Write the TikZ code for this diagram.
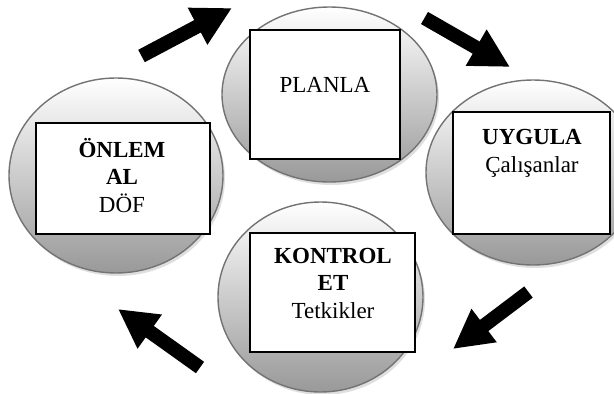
\documentclass[tikz,border=0pt]{standalone}
\usepackage{fontspec}
\setmainfont{Liberation Serif}
\usetikzlibrary{shapes.geometric, arrows.meta, shadows}

\begin{document}
\begin{tikzpicture}[x=1pt, y=-1pt,
    phase/.style={ellipse, draw=black!55, line width=1.4pt, top color=white, bottom color=black!40,
        drop shadow={opacity=0.25, shadow xshift=2pt, shadow yshift=-3pt}},
    stagebox/.style={rectangle, draw, line width=1.3pt, fill=white, inner sep=0pt},
    lbl/.style={font=\fontsize{23}{27.5}\selectfont, align=center, anchor=base, inner sep=0pt},
    cyc/.style={line width=14pt, -{Triangle[length=39pt, width=39pt]}}]
    \useasboundingbox (0,0) rectangle (614,394);
    % Define the circles
    \node[phase, minimum width=215pt, minimum height=175pt] (planC) at (329.5,94.5) {};
    \node[phase, minimum width=214pt, minimum height=185pt] (uygC) at (533,172.5) {};
    \node[phase, minimum width=214pt, minimum height=195pt] (onlC) at (116,175.5) {};
    \node[phase, minimum width=205pt, minimum height=190pt] (konC) at (320.5,297) {};
    % Boxes on top
    \node[stagebox, minimum width=150pt, minimum height=129pt] (plan) at (325,94.5) {};
    \node[stagebox, minimum width=157pt, minimum height=122pt] (uyg) at (531.5,173) {};
    \node[stagebox, minimum width=174pt, minimum height=111pt] (onl) at (123,178.5) {};
    \node[stagebox, minimum width=165pt, minimum height=119pt] (kon) at (332.5,292.5) {};
    % Texts (base = last line)
    \node[lbl] (planT) at (325,92) {PLANLA};
    \node[lbl] (uygT) at (532,172) {\textbf{UYGULA}\\Çalışanlar};
    \node[lbl] (onlT) at (122,212) {\textbf{ÖNLEM}\\\textbf{AL}\\DÖF};
    \node[lbl] (konT) at (333,318) {\textbf{KONTROL}\\\textbf{ET}\\Tetkikler};
    % Cycle arrows
    \coordinate (a1s) at (141.5,56);  \coordinate (a1e) at (232,8);
    \coordinate (a2s) at (424.5,18);  \coordinate (a2e) at (510,67);
    \coordinate (a3s) at (528.5,292); \coordinate (a3e) at (453,349);
    \coordinate (a4s) at (200,367.5); \coordinate (a4e) at (118,309);
    \draw[cyc] (a1s) -- (a1e);
    \draw[cyc] (a2s) -- (a2e);
    \draw[cyc] (a3s) -- (a3e);
    \draw[cyc] (a4s) -- (a4e);
\end{tikzpicture}
\end{document}
